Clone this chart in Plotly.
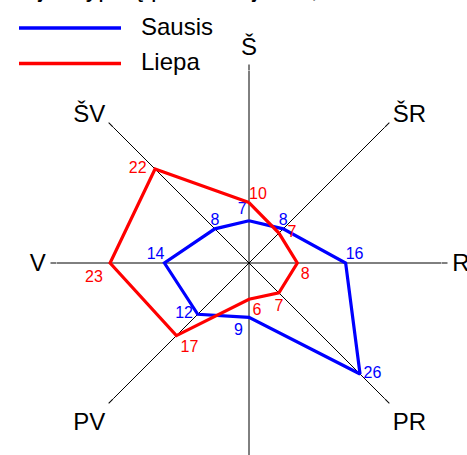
import plotly.graph_objects as go

directions = ["Š", "ŠR", "R", "PR", "P", "PV", "V", "ŠV"]
sausis = [7, 8, 16, 26, 9, 12, 14, 8]
liepa = [10, 7, 8, 7, 6, 17, 23, 22]
series_names = ["Sausis", "Liepa"]
title_text = "Vėjo krypčių pasikartojimas, %"

W, H = 467, 455
FONT = "Liberation Sans, Arial, sans-serif"
BLUE, RED = "#0000FF", "#FF0000"

# label placement around each vertex (position, spacing)
blue_pos = ["top left", "top center", "top right", "middle right",
            "bottom left", "middle left", "top left", "top center"]
blue_gap = [2, 0, 0, 4, 8, 6, 0, 0]
red_pos = ["top right", "middle right", "bottom right", "bottom center",
           "bottom right", "bottom right", "bottom left", "middle left"]
red_gap = [0, 12, 4, 8, 4, 5, 10, 12]


def closed(vals):
    return list(vals) + [vals[0]]


fig = go.Figure()
for name, vals, color, pos, gap in [(series_names[0], sausis, BLUE, blue_pos, blue_gap),
                                    (series_names[1], liepa, RED, red_pos, red_gap)]:
    fig.add_trace(go.Scatterpolar(
        r=closed(vals), theta=closed(directions), name=name,
        mode="lines+markers+text",
        marker=dict(size=gap + [0], color="rgba(0,0,0,0)", opacity=0,
                    line=dict(width=0, color="rgba(0,0,0,0)")),
        text=[str(v) for v in vals] + [""],
        textposition=pos + ["top center"],
        textfont=dict(family=FONT, size=16, color=color),
        line=dict(color=color, width=3.2),
        cliponaxis=False, showlegend=False, hoverinfo="skip",
    ))

cx, cy, rad = 249, 263, 192
fig.update_layout(
    width=W, height=H,
    margin=dict(l=0, r=0, t=0, b=0),
    paper_bgcolor="white", plot_bgcolor="white",
    font=dict(family=FONT, size=24, color="black"),
    polar=dict(
        domain=dict(x=[(cx - rad) / W, (cx + rad) / W],
                    y=[(H - cy - rad) / H, (H - cy + rad) / H]),
        bgcolor="white",
        radialaxis=dict(visible=False, range=[0, rad / 6.04], showgrid=False),
        angularaxis=dict(
            type="category", categoryarray=directions,
            rotation=90, direction="clockwise",
            showline=False, showgrid=True, gridcolor="black", gridwidth=1.2,
            ticks="outside", ticklen=6, tickwidth=1.2, tickcolor="black",
            tickfont=dict(family=FONT, size=24, color="black"),
        ),
    ),
)

# manual legend
for i, (name, color) in enumerate([(series_names[0], BLUE), (series_names[1], RED)]):
    yy = 1 - (28 + 35.5 * i) / H
    fig.add_shape(type="line", xref="paper", yref="paper",
                  x0=19 / W, x1=121 / W, y0=yy, y1=yy,
                  line=dict(color=color, width=3.5))
    fig.add_annotation(xref="paper", yref="paper", x=139 / W, y=yy + 2 / H,
                       xanchor="left", yanchor="middle", text=name,
                       showarrow=False,
                       font=dict(family=FONT, size=24, color="black"))

# title (mostly above the visible area, as in the reference)
fig.add_annotation(xref="paper", yref="paper", x=6 / W, y=1 - 4 / H,
                   xanchor="left", yanchor="bottom", text=title_text,
                   showarrow=False,
                   font=dict(family=FONT, size=25, color="black"))

fig.write_html("out.html", config={"displayModeBar": False},
               post_script="document.body.style.margin='0px';")
